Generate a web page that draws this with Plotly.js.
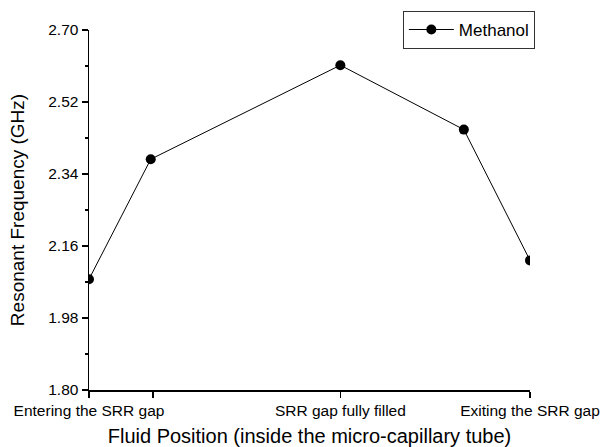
<!DOCTYPE html>
<html>
<head>
<meta charset="utf-8">
<script src="https://cdn.plot.ly/plotly-3.0.1.min.js"></script>
<style>html,body{margin:0;padding:0;background:#fff;}#chart{width:605px;height:447px;}</style>
</head>
<body>
<div id="chart"></div>
<script>
// Data
const positions = [0, 1.4, 5.7, 8.5, 10];
const frequencyGHz = [2.077, 2.377, 2.612, 2.451, 2.124];
const seriesName = "Methanol";
const xTickVals = [0, 1.45, 5.7, 10];
const xTickText = ["Entering the SRR gap", "", "SRR gap fully filled", "Exiting the SRR gap"];
const yTickVals = [1.80, 1.98, 2.16, 2.34, 2.52, 2.70];
const yTickText = ["1.80", "1.98", "2.16", "2.34", "2.52", "2.70"];

const font = "Arial, 'Liberation Sans', sans-serif";

const trace = {
  x: positions,
  y: frequencyGHz,
  name: seriesName,
  type: "scatter",
  mode: "lines+markers",
  line: {color: "#000", width: 1},
  marker: {color: "#000", size: 10, symbol: "circle"},
  cliponaxis: true,
  showlegend: true
};

const layout = {
  width: 605,
  height: 447,
  margin: {l: 89, r: 75, t: 29, b: 57},
  paper_bgcolor: "#fff",
  plot_bgcolor: "#fff",
  font: {family: font, color: "#000"},
  showlegend: true,
  legend: {
    x: 1.011, y: 1.05, xanchor: "right", yanchor: "top",
    bordercolor: "#333", borderwidth: 1,
    font: {family: font, size: 17, color: "#000"},
    bgcolor: "rgba(255,255,255,1)",
    itemwidth: 45,
    tracegroupgap: 0
  },
  xaxis: {
    range: [0, 10],
    showgrid: false, zeroline: false,
    showline: true, linecolor: "#000", linewidth: 1.5,
    ticks: "outside", ticklen: 6, tickwidth: 1.2, tickcolor: "#000",
    tickmode: "array", tickvals: xTickVals, ticktext: xTickText,
    tickfont: {family: font, size: 15.5, color: "#000"},
    title: {text: "Fluid Position (inside the micro-capillary tube)", font: {family: font, size: 20, color: "#000"}, standoff: 12}
  },
  yaxis: {
    range: [1.8, 2.7],
    showgrid: false, zeroline: false,
    showline: true, linecolor: "#000", linewidth: 1.5,
    ticks: "outside", ticklen: 6, tickwidth: 1.2, tickcolor: "#000",
    tickmode: "array", tickvals: yTickVals, ticktext: yTickText,
    tickfont: {family: font, size: 15.5, color: "#000"},
    minor: {dtick: 0.09, tick0: 1.8, ticks: "outside", ticklen: 3, tickwidth: 1.2, tickcolor: "#000", showgrid: false},
    title: {text: "Resonant Frequency (GHz)", font: {family: font, size: 19, color: "#000"}, standoff: 18}
  }
};

Plotly.newPlot("chart", [trace], layout, {displayModeBar: false, staticPlot: true});
</script>
</body>
</html>
